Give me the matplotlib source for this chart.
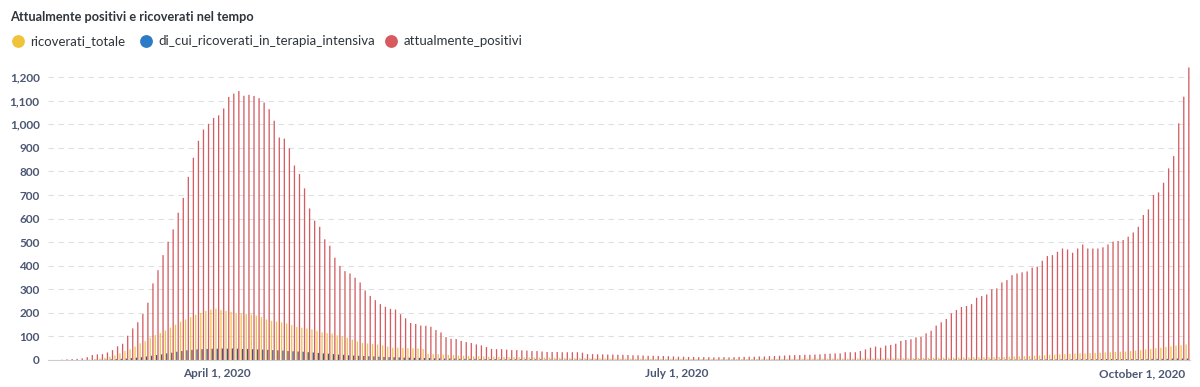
import matplotlib
matplotlib.use("Agg")
import matplotlib.pyplot as plt
import numpy as np
import pandas as pd
from matplotlib.ticker import FuncFormatter, FixedLocator

# ---------------- data ----------------
start_date = "2020-02-28"

positivi_feb = [0, 0]
positivi_mar = [1, 3, 4, 5, 7, 12, 21, 24, 25, 32, 42, 58, 69, 103, 134, 160, 195, 243, 325, 381,
                445, 502, 554, 625, 688, 777, 858, 930, 978, 1002, 1027]
positivi_apr = [1038, 1067, 1116, 1130, 1141, 1121, 1125, 1120, 1111, 1092, 1064, 1015, 944, 939, 898,
                825, 789, 728, 643, 591, 565, 512, 485, 434, 399, 377, 367, 349, 329, 295]
positivi_may = [272, 254, 237, 226, 217, 214, 194, 177, 157, 153, 146, 145, 141, 127, 117, 97, 90, 89,
                81, 76, 72, 66, 62, 55, 47, 46, 46, 44, 42, 42, 41]
positivi_jun = [40, 38, 38, 36, 34, 34, 34, 33, 33, 33, 33, 31, 25, 25, 24, 24, 23, 23, 22, 22, 21, 20,
                20, 19, 18, 18, 17, 17, 16, 15]
positivi_jul = [14, 14, 13, 13, 12, 12, 12, 11, 12, 12, 11, 12, 13, 13, 14, 14, 15, 15, 16, 17, 18, 19,
                20, 21, 21, 22, 22, 23, 24, 26, 27]
positivi_aug = [28, 28, 33, 33, 33, 38, 45, 52, 57, 52, 61, 64, 69, 81, 85, 88, 96, 98, 113, 124, 146,
                160, 174, 198, 212, 225, 229, 237, 264, 271, 278]
positivi_sep = [300, 304, 329, 339, 360, 367, 372, 376, 392, 396, 421, 441, 445, 459, 473, 469, 455, 473,
                490, 473, 473, 473, 478, 490, 502, 505, 509, 523, 541, 565]
positivi_oct = [615, 639, 700, 711, 752, 813, 865, 1004, 1117, 1241]

ricoverati_feb = [0, 0]
ricoverati_mar = [0, 0, 0, 0, 0, 1, 2, 4, 6, 9, 14, 20, 28, 38, 45, 57, 71, 80, 95, 106, 115, 125, 137,
                  150, 162, 172, 182, 192, 200, 208, 214]
ricoverati_apr = [218, 212, 208, 204, 200, 198, 196, 193, 188, 182, 172, 166, 163, 160, 155, 148, 140,
                  137, 134, 130, 123, 117, 114, 112, 105, 100, 94, 86, 78, 72]
ricoverati_may = [70, 68, 66, 62, 57, 52, 52, 51, 50, 50, 49, 47, 26, 25, 24, 23, 22, 21, 19, 18, 17, 16,
                  16, 15, 14, 14, 13, 13, 12, 12, 12]
ricoverati_jun = [11, 11, 11, 10, 10, 10, 9, 9, 9, 8, 8, 8, 8, 7, 7, 7, 7, 6, 6, 6, 6, 6, 5, 5, 5, 5, 5,
                  5, 5, 5]
ricoverati_jul = [5, 5, 5, 4, 4, 4, 4, 4, 4, 4, 4, 4, 4, 4, 4, 4, 4, 5, 5, 5, 5, 5, 5, 5, 5, 6, 6, 6, 6,
                  6, 6]
ricoverati_aug = [6, 6, 6, 6, 6, 7, 7, 7, 7, 7, 7, 8, 8, 8, 8, 8, 8, 9, 9, 9, 9, 10, 10, 10, 10, 11, 11,
                  11, 12, 12, 12]
ricoverati_sep = [12, 12, 13, 13, 14, 15, 15, 16, 17, 18, 19, 20, 22, 23, 24, 25, 26, 27, 28, 28, 29, 30,
                  31, 32, 33, 34, 35, 36, 38, 40]
ricoverati_oct = [42, 45, 47, 50, 52, 55, 58, 61, 63, 66]

intensiva_feb = [0, 0]
intensiva_mar = [0, 0, 0, 0, 0, 0, 0, 1, 1, 2, 3, 4, 5, 6, 8, 10, 12, 15, 18, 21, 24, 28, 31, 35, 38,
                 41, 43, 45, 46, 47, 48]
intensiva_apr = [48, 49, 48, 49, 48, 47, 47, 46, 45, 44, 43, 42, 41, 40, 38, 37, 36, 35, 33, 32, 30, 28,
                 27, 25, 23, 22, 20, 19, 18, 17]
intensiva_may = [16, 15, 14, 13, 12, 12, 11, 10, 10, 9, 9, 8, 8, 7, 7, 6, 6, 6, 5, 5, 5, 5, 4, 4, 4, 4,
                 3, 3, 3, 3, 3]
intensiva_jun = [3, 3, 3, 3, 2, 2, 2, 2, 2, 2, 2, 2, 2, 2, 2, 1, 1, 1, 1, 1, 1, 1, 1, 1, 1, 1, 1, 1, 1, 1]
intensiva_jul = [1, 1, 1, 1, 1, 1, 1, 1, 1, 1, 1, 1, 1, 1, 1, 1, 1, 1, 1, 1, 1, 1, 1, 1, 1, 1, 1, 1, 1,
                 1, 1]
intensiva_aug = [1, 1, 1, 1, 1, 1, 1, 1, 1, 1, 1, 1, 1, 1, 1, 1, 2, 2, 2, 2, 2, 2, 2, 2, 2, 2, 2, 2, 2,
                 2, 2]
intensiva_sep = [2, 2, 2, 2, 2, 2, 2, 2, 2, 2, 3, 3, 3, 3, 3, 3, 3, 3, 3, 3, 3, 3, 4, 4, 4, 4, 4, 4, 4, 4]
intensiva_oct = [4, 4, 5, 5, 5, 5, 6, 6, 6, 6]

series_names = ["ricoverati_totale", "di_cui_ricoverati_in_terapia_intensiva", "attualmente_positivi"]
tick_dates = ["2020-04-01", "2020-07-01", "2020-10-01"]
tick_labels = ["April 1, 2020", "July 1, 2020", "October 1, 2020"]
y_ticks = list(range(0, 1201, 100))
title = "Attualmente positivi e ricoverati nel tempo"

# ---------------- assemble ----------------
positivi = np.array(positivi_feb + positivi_mar + positivi_apr + positivi_may + positivi_jun +
                    positivi_jul + positivi_aug + positivi_sep + positivi_oct)
ricoverati = np.array(ricoverati_feb + ricoverati_mar + ricoverati_apr + ricoverati_may + ricoverati_jun +
                      ricoverati_jul + ricoverati_aug + ricoverati_sep + ricoverati_oct)
intensiva = np.array(intensiva_feb + intensiva_mar + intensiva_apr + intensiva_may + intensiva_jun +
                     intensiva_jul + intensiva_aug + intensiva_sep + intensiva_oct)
n = len(positivi)
dates = pd.date_range(start_date, periods=n, freq="D")
x = np.arange(n)

legend_colors = ["#F0C33C", "#2C7BC6", "#D65A5E"]
bar_colors = ["#F2C550", "#3A5A7C", "#D45C62"]
TEXT = "#2E353B"
TICK = "#4C5773"

plt.rcParams["font.family"] = ["Lato", "DejaVu Sans"]

W, H = 1200, 387
fig = plt.figure(figsize=(W / 100, H / 100), dpi=100)
fig.patch.set_facecolor("white")

left_px, right_px, bottom_px, top_px = 48, 1190, 360, 63
ax = fig.add_axes([left_px / W, 1 - bottom_px / H, (right_px - left_px) / W, (bottom_px - top_px) / H])

bw = 0.27
for vals, off, c in zip([ricoverati, intensiva, positivi], [-bw, 0, bw], bar_colors):
    bars = ax.bar(x + off, vals, width=bw * 0.95, color=c, linewidth=0, zorder=3)
    for b in bars:
        b.set_snap(False)

ax.set_xlim(-0.5, n - 0.5)
ax.set_ylim(0, 1260)
ax.yaxis.set_major_locator(FixedLocator(y_ticks))
ax.yaxis.set_major_formatter(FuncFormatter(lambda v, p: f"{int(v):,}"))
tick_pos = [dates.get_loc(pd.Timestamp(d)) for d in tick_dates]
ax.set_xticks(tick_pos)
ax.set_xticklabels(tick_labels)

ax.grid(axis="y", color="#DCDFE3", linewidth=0.8, linestyle=(0, (5, 4)), zorder=0)
for s in ["top", "right", "left"]:
    ax.spines[s].set_visible(False)
ax.spines["bottom"].set_color("#C9CED3")
ax.spines["bottom"].set_linewidth(0.8)
ax.spines["bottom"].set_zorder(4)
ax.tick_params(axis="y", length=0, pad=6, labelsize=8.5, labelcolor=TICK)
ax.tick_params(axis="x", length=0, pad=6, labelsize=8.5, labelcolor=TICK)
for lab in ax.get_yticklabels() + ax.get_xticklabels():
    lab.set_fontweight("bold")

# title and legend
fig.text(10 / W, 1 - 17 / H, title, ha="left", va="center", fontsize=9.2, fontweight="bold", color=TEXT)
leg_ax = fig.add_axes([0, 0, 1, 1], facecolor="none")
leg_ax.set_xlim(0, W)
leg_ax.set_ylim(H, 0)
leg_ax.axis("off")
leg_pos = [18, 146, 391]
for name, c, px in zip(series_names, legend_colors, leg_pos):
    leg_ax.scatter([px], [41], s=85, color=c, linewidths=0)
    leg_ax.text(px + 12.5, 41, name, ha="left", va="center", fontsize=9.5, color=TEXT)

fig.savefig("out.png", dpi=100, facecolor="white")
